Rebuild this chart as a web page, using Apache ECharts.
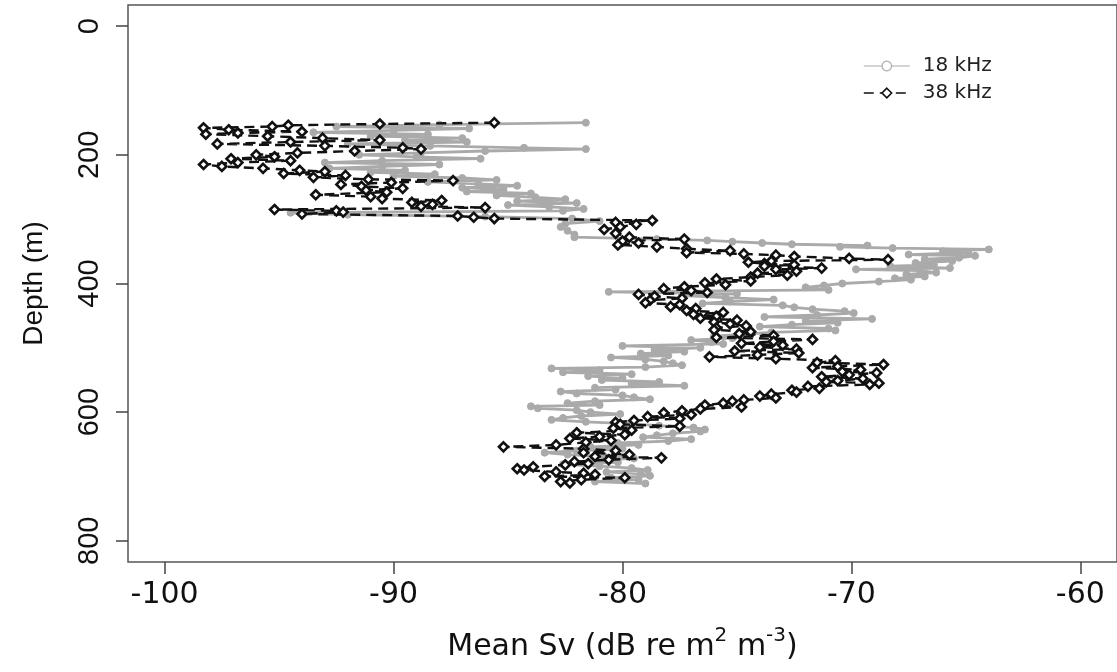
<!DOCTYPE html>
<html>
<head>
<meta charset="utf-8">
<script src="https://cdn.jsdelivr.net/npm/echarts@6/dist/echarts.min.js"></script>
<style>html,body{margin:0;padding:0;background:#fff}#c{width:1117px;height:672px}</style>
</head>
<body>
<div id="c"></div>
<script>
// ---- data ----
const xTicks = [-100, -90, -80, -70, -60];
const yTicks = [0, 200, 400, 600, 800];
const seriesNames = ['18 kHz', '38 kHz'];

const depth18 = [150,153,156,159,162,165,168,171,174,177,180,183,186,189,191,194,197,200,203,206,209,212,215,218,221,224,227,230,233,236,239,242,245,248,251,254,257,260,263,266,269,272,275,278,281,284,287,290,293,296,299,303,307,312,318,324,328,331,333,335,337,339,341,343,345,347,350,352,355,357,360,362,365,368,371,373,376,378,380,383,386,389,392,394,397,400,403,406,410,413,416,419,422,425,428,431,434,437,440,443,446,449,452,455,458,461,464,467,470,473,476,479,482,485,488,491,494,497,500,503,506,509,512,515,518,521,524,527,530,532,535,538,541,544,547,550,553,556,559,562,565,568,571,574,577,580,583,586,589,591,594,597,600,603,606,609,612,615,618,621,624,627,630,633,636,639,642,645,648,651,654,657,660,663,666,669,672,675,678,681,684,687,690,693,696,699,702,705,708,711];
const sv18 = [-81.6,-88.0,-92.5,-86.7,-90.0,-93.5,-88.5,-91.0,-87.0,-89.5,-86.8,-92.0,-88.4,-84.3,-81.6,-86.0,-88.8,-91.5,-89.0,-86.2,-90.5,-93.0,-88.0,-90.5,-92.8,-89.5,-91.0,-88.2,-90.0,-87.0,-85.5,-88.5,-86.3,-84.6,-87.0,-85.2,-86.8,-84.0,-85.5,-83.8,-82.5,-84.6,-82.0,-85.0,-83.2,-81.7,-82.6,-94.5,-92.0,-86.0,-82.2,-81.0,-82.5,-82.7,-82.4,-82.1,-82.1,-78.5,-76.3,-75.2,-73.9,-72.6,-69.3,-70.5,-68.2,-64.0,-66.0,-64.9,-67.5,-64.6,-65.3,-66.8,-65.6,-67.2,-66.4,-68.3,-65.7,-69.8,-67.0,-66.3,-67.6,-66.8,-68.1,-67.4,-68.8,-70.4,-71.2,-72.0,-71.0,-80.6,-75.0,-77.4,-75.5,-73.4,-75.3,-76.5,-73.0,-72.5,-71.7,-70.3,-69.9,-71.5,-73.8,-69.1,-72.0,-70.6,-72.6,-74.0,-71.0,-70.7,-73.5,-74.8,-76.0,-75.2,-77.0,-76.1,-75.6,-80.0,-76.6,-78.6,-77.3,-79.2,-78.0,-80.5,-79.0,-78.2,-77.8,-77.4,-79.0,-83.1,-81.0,-82.6,-79.6,-81.5,-80.0,-80.9,-78.4,-79.6,-77.3,-81.2,-80.3,-82.7,-82.0,-80.0,-79.5,-78.8,-81.2,-82.4,-81.0,-84.0,-83.7,-82.0,-81.4,-80.1,-81.8,-82.6,-83.1,-81.6,-79.8,-78.4,-76.9,-76.4,-76.6,-77.8,-78.5,-79.1,-77.0,-78.0,-80.2,-79.3,-81.4,-80.0,-82.0,-83.4,-82.4,-80.8,-79.5,-81.3,-80.2,-82.6,-81.0,-79.6,-78.9,-80.7,-79.2,-78.8,-80.5,-79.3,-81.2,-79.0];

const depth38 = [150,152,154,156,158,161,164,166,168,171,174,177,180,183,186,189,191,194,197,200,203,206,209,212,215,218,221,224,226,229,232,235,238,240,243,246,249,252,255,258,262,265,268,271,274,277,280,282,285,287,289,292,295,297,299,302,305,308,312,316,322,328,331,334,337,340,343,346,349,352,354,356,358,361,363,365,367,369,371,373,376,378,381,384,387,390,393,396,399,402,405,408,411,414,417,420,423,426,430,433,436,439,442,445,448,451,454,457,460,463,466,469,472,475,478,481,484,487,490,493,496,499,502,505,508,511,514,517,520,523,526,529,531,534,537,539,542,545,548,551,553,555,557,560,563,566,569,572,575,578,581,583,586,589,592,595,598,601,604,607,610,613,616,619,622,625,628,632,635,638,641,644,647,651,654,657,660,663,666,669,671,674,677,680,682,685,688,690,693,695,697,700,702,705,708,710];
const sv38 = [-85.6,-90.6,-94.6,-95.3,-98.3,-97.2,-94.0,-96.8,-98.2,-95.5,-93.1,-90.6,-94.5,-97.7,-93.0,-89.6,-88.8,-91.7,-94.2,-96.0,-95.2,-97.1,-94.5,-96.8,-98.3,-97.5,-95.7,-94.1,-93.0,-94.8,-92.1,-93.5,-91.1,-87.4,-90.1,-92.3,-91.4,-89.6,-91.2,-90.3,-93.4,-91.0,-90.5,-87.9,-89.2,-88.3,-88.8,-86.0,-95.2,-92.5,-92.2,-94.0,-87.2,-86.5,-85.6,-78.7,-80.3,-79.4,-80.1,-80.8,-80.3,-79.7,-77.3,-80.0,-79.3,-80.2,-78.5,-77.2,-75.3,-77.2,-74.7,-73.3,-72.5,-70.1,-68.4,-73.5,-74.5,-73.8,-72.5,-73.8,-71.3,-73.3,-72.4,-74.1,-72.8,-74.4,-75.9,-74.4,-76.4,-75.5,-77.3,-78.2,-77.0,-76.3,-79.3,-78.6,-77.4,-78.8,-79.0,-77.5,-77.9,-76.8,-77.2,-75.6,-76.9,-75.9,-76.6,-75.0,-76.0,-75.3,-74.6,-75.9,-76.0,-74.4,-74.9,-73.4,-75.9,-71.7,-73.4,-74.8,-73.0,-74.0,-72.4,-75.1,-72.3,-74.1,-76.2,-73.3,-70.7,-71.5,-68.6,-70.6,-71.7,-69.6,-70.4,-68.9,-70.1,-71.3,-69.5,-70.6,-71.1,-68.8,-69.2,-71.9,-71.4,-72.6,-72.4,-73.5,-74.0,-73.3,-74.7,-75.2,-75.6,-76.4,-74.8,-76.6,-77.4,-78.2,-77.0,-78.9,-77.5,-79.5,-80.3,-80.1,-77.5,-80.4,-79.6,-82.0,-79.9,-81.0,-82.3,-80.5,-81.6,-82.9,-85.2,-81.7,-80.3,-81.7,-79.7,-81.2,-78.3,-80.6,-82.1,-81.5,-82.5,-83.9,-84.6,-84.3,-82.9,-81.7,-81.2,-83.4,-79.9,-81.8,-82.7,-82.3];

// ---- chart ----
const pairs = (xs, ys) => xs.map((v, i) => [v, ys[i]]);
const fontH = '"DejaVu Sans", "Liberation Sans", Arial, sans-serif';
const fontV = '"Liberation Sans", Arial, Helvetica, sans-serif';
const chart = echarts.init(document.getElementById('c'), null, {renderer: 'canvas'});
chart.setOption({
  animation: false,
  backgroundColor: '#fff',
  textStyle: {fontFamily: fontH},
  grid: {left: 128, right: -5, top: 5, bottom: 110, show: true, borderColor: '#555', borderWidth: 1.5, backgroundColor: 'transparent'},
  legend: {
    orient: 'vertical', left: 858, top: 51, itemWidth: 46, itemHeight: 12, itemGap: 7,
    textStyle: {fontFamily: fontH, fontSize: 20, color: '#222', padding: [0, 0, 0, 8]},
    data: [
      {name: seriesNames[0], itemStyle: {color: '#fff', borderColor: '#aaa', borderWidth: 1.2}, lineStyle: {width: 1.2}},
      {name: seriesNames[1], itemStyle: {color: '#fff', borderColor: '#111', borderWidth: 1.6}, lineStyle: {width: 1.6}}
    ]
  },
  xAxis: {
    type: 'value', min: -101.6, max: -58.4, position: 'bottom',
    axisLine: {show: false, onZero: false},
    axisTick: {show: true, length: 12, lineStyle: {color: '#444', width: 1.5}, customValues: xTicks},
    axisLabel: {fontFamily: fontH, fontSize: 30, color: '#111', margin: 18, customValues: xTicks, formatter: v => String(v)},
    splitLine: {show: false},
    name: '{a|Mean Sv (dB re m}{s|2}{a| m}{s|-3}{a|)}',
    nameLocation: 'middle', nameGap: 64,
    nameTextStyle: {
      rich: {
        a: {fontFamily: fontH, fontSize: 30, color: '#111', lineHeight: 36, verticalAlign: 'bottom'},
        s: {fontFamily: fontH, fontSize: 20, color: '#111', lineHeight: 36, verticalAlign: 'top', padding: [0, 0, 14, 0]}
      }
    }
  },
  yAxis: {
    type: 'value', inverse: true, min: -33, max: 833,
    axisLine: {show: false, onZero: false},
    axisTick: {show: true, length: 12, lineStyle: {color: '#444', width: 1.5}, customValues: yTicks},
    axisLabel: {fontFamily: fontV, fontSize: 29, color: '#111', margin: 24, rotate: 90, customValues: yTicks, formatter: v => String(v)},
    splitLine: {show: false},
    name: 'Depth (m)', nameLocation: 'middle', nameGap: 80,
    nameTextStyle: {fontFamily: fontV, fontSize: 28, color: '#111'}
  },
  series: [
    {
      name: seriesNames[0], type: 'line', data: pairs(sv18, depth18),
      symbol: 'circle', symbolSize: 7,
      itemStyle: {color: '#aaaaaa', borderColor: '#aaaaaa', borderWidth: 1},
      lineStyle: {color: '#aaaaaa', width: 2.8},
      z: 2
    },
    {
      name: seriesNames[1], type: 'line', data: pairs(sv38, depth38),
      symbol: 'diamond', symbolSize: 9,
      itemStyle: {color: '#ffffff', borderColor: '#111', borderWidth: 2.6},
      lineStyle: {color: '#111', width: 2.4, type: [10, 6]},
      z: 3
    }
  ]
});
</script>
</body>
</html>
